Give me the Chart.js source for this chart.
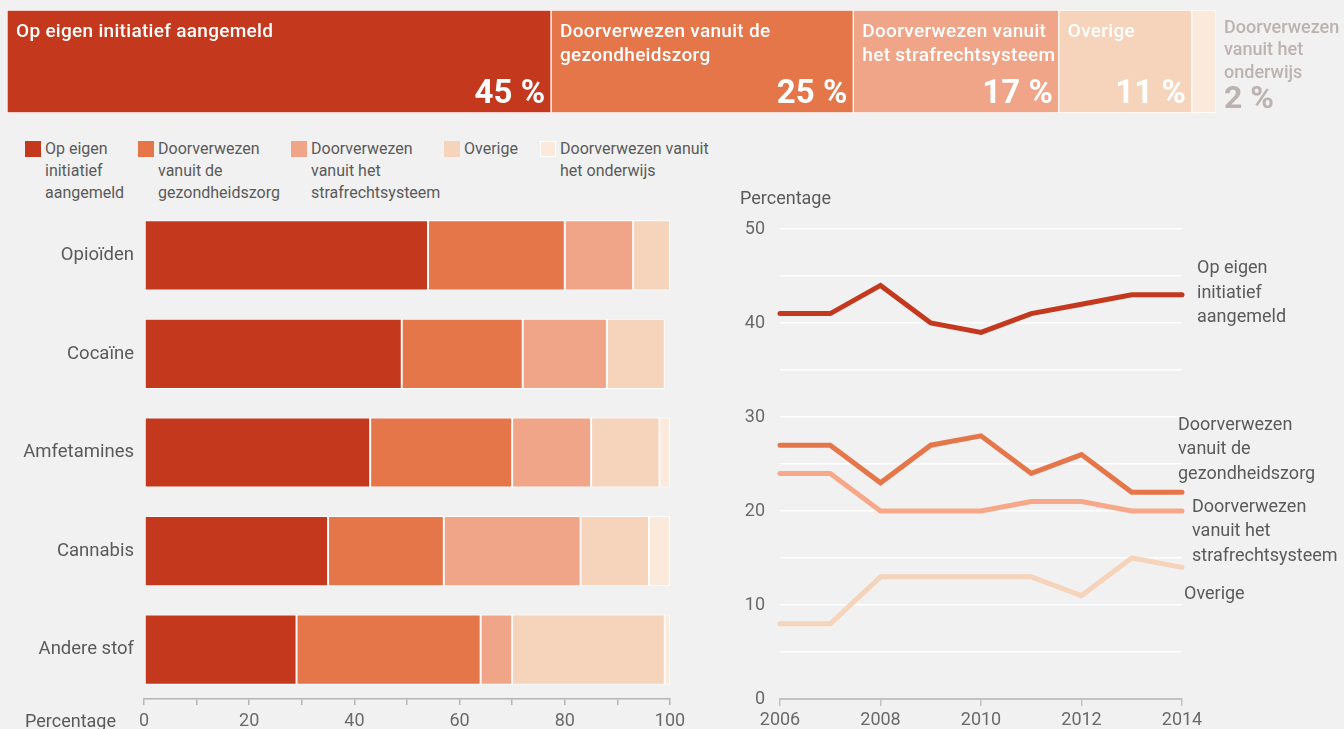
<!DOCTYPE html>
<html><head><meta charset="utf-8">
<script src="https://cdn.jsdelivr.net/npm/chart.js@4/dist/chart.umd.min.js"></script>
<style>
html,body{margin:0;padding:0;background:#f1f1f1;width:1344px;height:729px;overflow:hidden;font-family:Roboto,sans-serif;}
canvas{position:absolute;display:block;}
.txt{position:absolute;color:#5a5a5a;font-size:18px;white-space:nowrap;line-height:22px;}
.li{position:absolute;top:138px;color:#5a5a5a;font-size:16px;line-height:22px;white-space:nowrap;}
.sw{position:absolute;width:16px;height:16px;top:141px;}
</style></head>
<body>
<canvas id="top" width="1344" height="125" style="left:0;top:0"></canvas>
<div id="legend"></div>
<canvas id="bars" width="700" height="529" style="left:0;top:200px"></canvas>
<canvas id="lines" width="644" height="549" style="left:700px;top:180px"></canvas>
<div class="txt" style="left:25px;top:710px">Percentage</div>
<div class="txt" style="left:740px;top:187px">Percentage</div>
<script>
// ---------- data ----------
const seriesNames = ['Op eigen initiatief aangemeld','Doorverwezen vanuit de gezondheidszorg','Doorverwezen vanuit het strafrechtsysteem','Overige','Doorverwezen vanuit het onderwijs'];
const topLabels = [['Op eigen initiatief aangemeld'],['Doorverwezen vanuit de','gezondheidszorg'],['Doorverwezen vanuit','het strafrechtsysteem'],['Overige'],['Doorverwezen','vanuit het','onderwijs']];
const topShares = [45,25,17,11,2];
const legendLabels = [['Op eigen','initiatief','aangemeld'],['Doorverwezen','vanuit de','gezondheidszorg'],['Doorverwezen','vanuit het','strafrechtsysteem'],['Overige'],['Doorverwezen vanuit','het onderwijs']];
const substances = ['Opioïden','Cocaïne','Amfetamines','Cannabis','Andere stof'];
const eigenInitiatief = [54,49,43,35,29];
const gezondheidszorg = [26,23,27,22,35];
const strafrecht = [13,16,15,26,6];
const overige = [7,11,13,13,29];
const onderwijs = [0,0,2,4,1];
const barTicks = [0,20,40,60,80,100];
const years = [2006,2007,2008,2009,2010,2011,2012,2013,2014];
const lineEigen = [41,41,44,40,39,41,42,43,43];
const lineGezond = [27,27,23,27,28,24,26,22,22];
const lineStraf = [24,24,20,20,20,21,21,20,20];
const lineOverige = [8,8,13,13,13,13,11,15,14];
const lineLabels = [['Op eigen','initiatief','aangemeld'],['Doorverwezen','vanuit de','gezondheidszorg'],['Doorverwezen','vanuit het','strafrechtsysteem'],['Overige']];
const yTicks = [0,10,20,30,40,50];

// ---------- styles ----------
const barColors = ['#c4381e','#e5764a','#f0a589','#f5d4bb','#fbeadb'];
const lineColors = ['#c4381e','#e5764a','#f7a888','#f5d4bb'];
Chart.defaults.font.family = 'Roboto, sans-serif';
Chart.defaults.animation = false;
Chart.defaults.responsive = false;
Chart.defaults.devicePixelRatio = 1;
Chart.defaults.plugins.legend.display = false;
Chart.defaults.plugins.tooltip.enabled = false;

// ---------- legend ----------
const legendX = [25,138,291,444,540];
const lg = document.getElementById('legend');
legendLabels.forEach((lines,i)=>{
  const s = document.createElement('div'); s.className='sw';
  s.style.left = legendX[i]+'px'; s.style.background = barColors[i];
  if(i===4) s.style.boxShadow='inset 0 0 0 1px #fff';
  lg.appendChild(s);
  const t = document.createElement('div'); t.className='li';
  t.style.left = (legendX[i]+20)+'px'; t.innerHTML = lines.join('<br>');
  lg.appendChild(t);
});

// ---------- top bar ----------
const topLabelPlugin = {
  id:'topLabels',
  afterDatasetsDraw(chart){
    const ctx = chart.ctx;
    chart.data.datasets.forEach((ds,i)=>{
      const el = chart.getDatasetMeta(i).data[0];
      const left = Math.min(el.base, el.x), right = Math.max(el.base, el.x);
      const top = el.y - el.height/2, bottom = el.y + el.height/2;
      ctx.save();
      ctx.textBaseline = 'middle';
      if(i < 4){
        ctx.fillStyle = '#ffffff';
        ctx.font = '500 19px Roboto';
        ctx.letterSpacing = '0.3px';
        ctx.textAlign = 'left';
        topLabels[i].forEach((ln,k)=>ctx.fillText(ln, left+9, top+22+k*24));
        ctx.font = 'bold 33px Roboto';
        ctx.letterSpacing = '0px';
        ctx.textAlign = 'right';
        ctx.textBaseline = 'alphabetic';
        ctx.fillText(topShares[i]+' %', right-6, bottom-10);
      } else {
        ctx.fillStyle = '#bcb3b0';
        ctx.font = '500 18px Roboto';
        ctx.textAlign = 'left';
        topLabels[i].forEach((ln,k)=>ctx.fillText(ln, right+8, top+18+k*22.5));
        ctx.font = 'bold 32px Roboto';
        ctx.textBaseline = 'alphabetic';
        ctx.fillText(topShares[i]+' %', right+8, bottom-5);
      }
      ctx.restore();
    });
  }
};
new Chart(document.getElementById('top'), {
  type:'bar',
  data:{ labels:['Totaal'], datasets: topShares.map((v,i)=>({label:seriesNames[i], data:[v], backgroundColor:barColors[i], borderColor:'#ffffff', borderWidth:1, borderSkipped:false})) },
  options:{
    indexAxis:'y',
    layout:{padding:{left:7,right:128,top:10,bottom:12}},
    datasets:{bar:{barPercentage:1,categoryPercentage:1}},
    scales:{ x:{stacked:true,min:0,max:100,display:false}, y:{stacked:true,display:false} }
  },
  plugins:[topLabelPlugin]
});

// ---------- stacked bars ----------
const barSeries = [eigenInitiatief,gezondheidszorg,strafrecht,overige,onderwijs];
new Chart(document.getElementById('bars'), {
  type:'bar',
  data:{ labels:substances, datasets: barSeries.map((arr,i)=>({label:seriesNames[i], data:arr, backgroundColor:barColors[i], borderColor:'#ffffff', borderWidth:1, borderSkipped:false})) },
  options:{
    indexAxis:'y',
    layout:{padding:{left:0,right:30,top:6,bottom:0}},
    datasets:{bar:{barPercentage:0.712,categoryPercentage:1}},
    scales:{
      x:{stacked:true,min:0,max:100,
        ticks:{stepSize:10,autoSkip:false,maxRotation:0,padding:6,color:'#6a6a6a',font:{size:18},
          callback:(v)=>barTicks.includes(v)?String(v):''},
        grid:{drawOnChartArea:false,drawTicks:true,tickLength:6,color:'#b5b5b5',lineWidth:1.5},
        border:{display:true,color:'#b5b5b5',width:1.5},
        afterFit:(s)=>{s.height=30;s.paddingLeft=0;s.paddingRight=0;}
      },
      y:{stacked:true,
        ticks:{color:'#5a5a5a',font:{size:18.5},padding:10},
        grid:{display:false,drawTicks:false},border:{display:false},
        afterFit:(s)=>{s.width=144;s.paddingTop=0;s.paddingBottom=0;}
      }
    }
  }
});

// ---------- lines ----------
const lineOffsets = [{dx:15,dy:-26},{dx:-4,dy:-67},{dx:10,dy:-4},{dx:2,dy:27}];
const lineLabelPlugin = {
  id:'lineLabels',
  afterDatasetsDraw(chart){
    const ctx = chart.ctx;
    chart.data.datasets.forEach((ds,i)=>{
      const pts = chart.getDatasetMeta(i).data;
      const p = pts[pts.length-1];
      ctx.save();
      ctx.fillStyle = '#5a5a5a';
      ctx.font = '18px Roboto';
      ctx.textAlign = 'left'; ctx.textBaseline = 'middle';
      lineLabels[i].forEach((ln,k)=>ctx.fillText(ln, p.x+lineOffsets[i].dx, p.y+lineOffsets[i].dy+k*24.5));
      ctx.restore();
    });
  }
};
const lineSeries = [lineEigen,lineGezond,lineStraf,lineOverige];
new Chart(document.getElementById('lines'), {
  type:'line',
  data:{ datasets: lineSeries.map((arr,i)=>({label:seriesNames[i], data:years.map((y,k)=>({x:y,y:arr[k]})), borderColor:lineColors[i], borderWidth:5, pointRadius:0, tension:0, fill:false, clip:false, borderCapStyle:'round', order:i})) },
  options:{
    layout:{padding:{left:0,right:162,top:49,bottom:0}},
    scales:{
      x:{type:'linear',min:2006,max:2014,
        ticks:{stepSize:2,padding:4,color:'#6a6a6a',font:{size:18},callback:(v)=>String(v)},
        grid:{drawOnChartArea:false,drawTicks:true,tickLength:7,color:'#c2c2c2',lineWidth:1.5},
        border:{display:true,color:'#c2c2c2',width:2},
        afterFit:(s)=>{s.height=30;s.paddingLeft=0;s.paddingRight=0;}
      },
      y:{min:0,max:50,
        ticks:{stepSize:5,padding:15,color:'#6a6a6a',font:{size:18},callback:(v)=>yTicks.includes(v)?String(v):''},
        grid:{color:'#ffffff',lineWidth:1.5,drawTicks:false},
        border:{display:false},
        afterFit:(s)=>{s.width=80;s.paddingTop=0;s.paddingBottom=0;}
      }
    }
  },
  plugins:[lineLabelPlugin]
});
</script>
</body></html>
